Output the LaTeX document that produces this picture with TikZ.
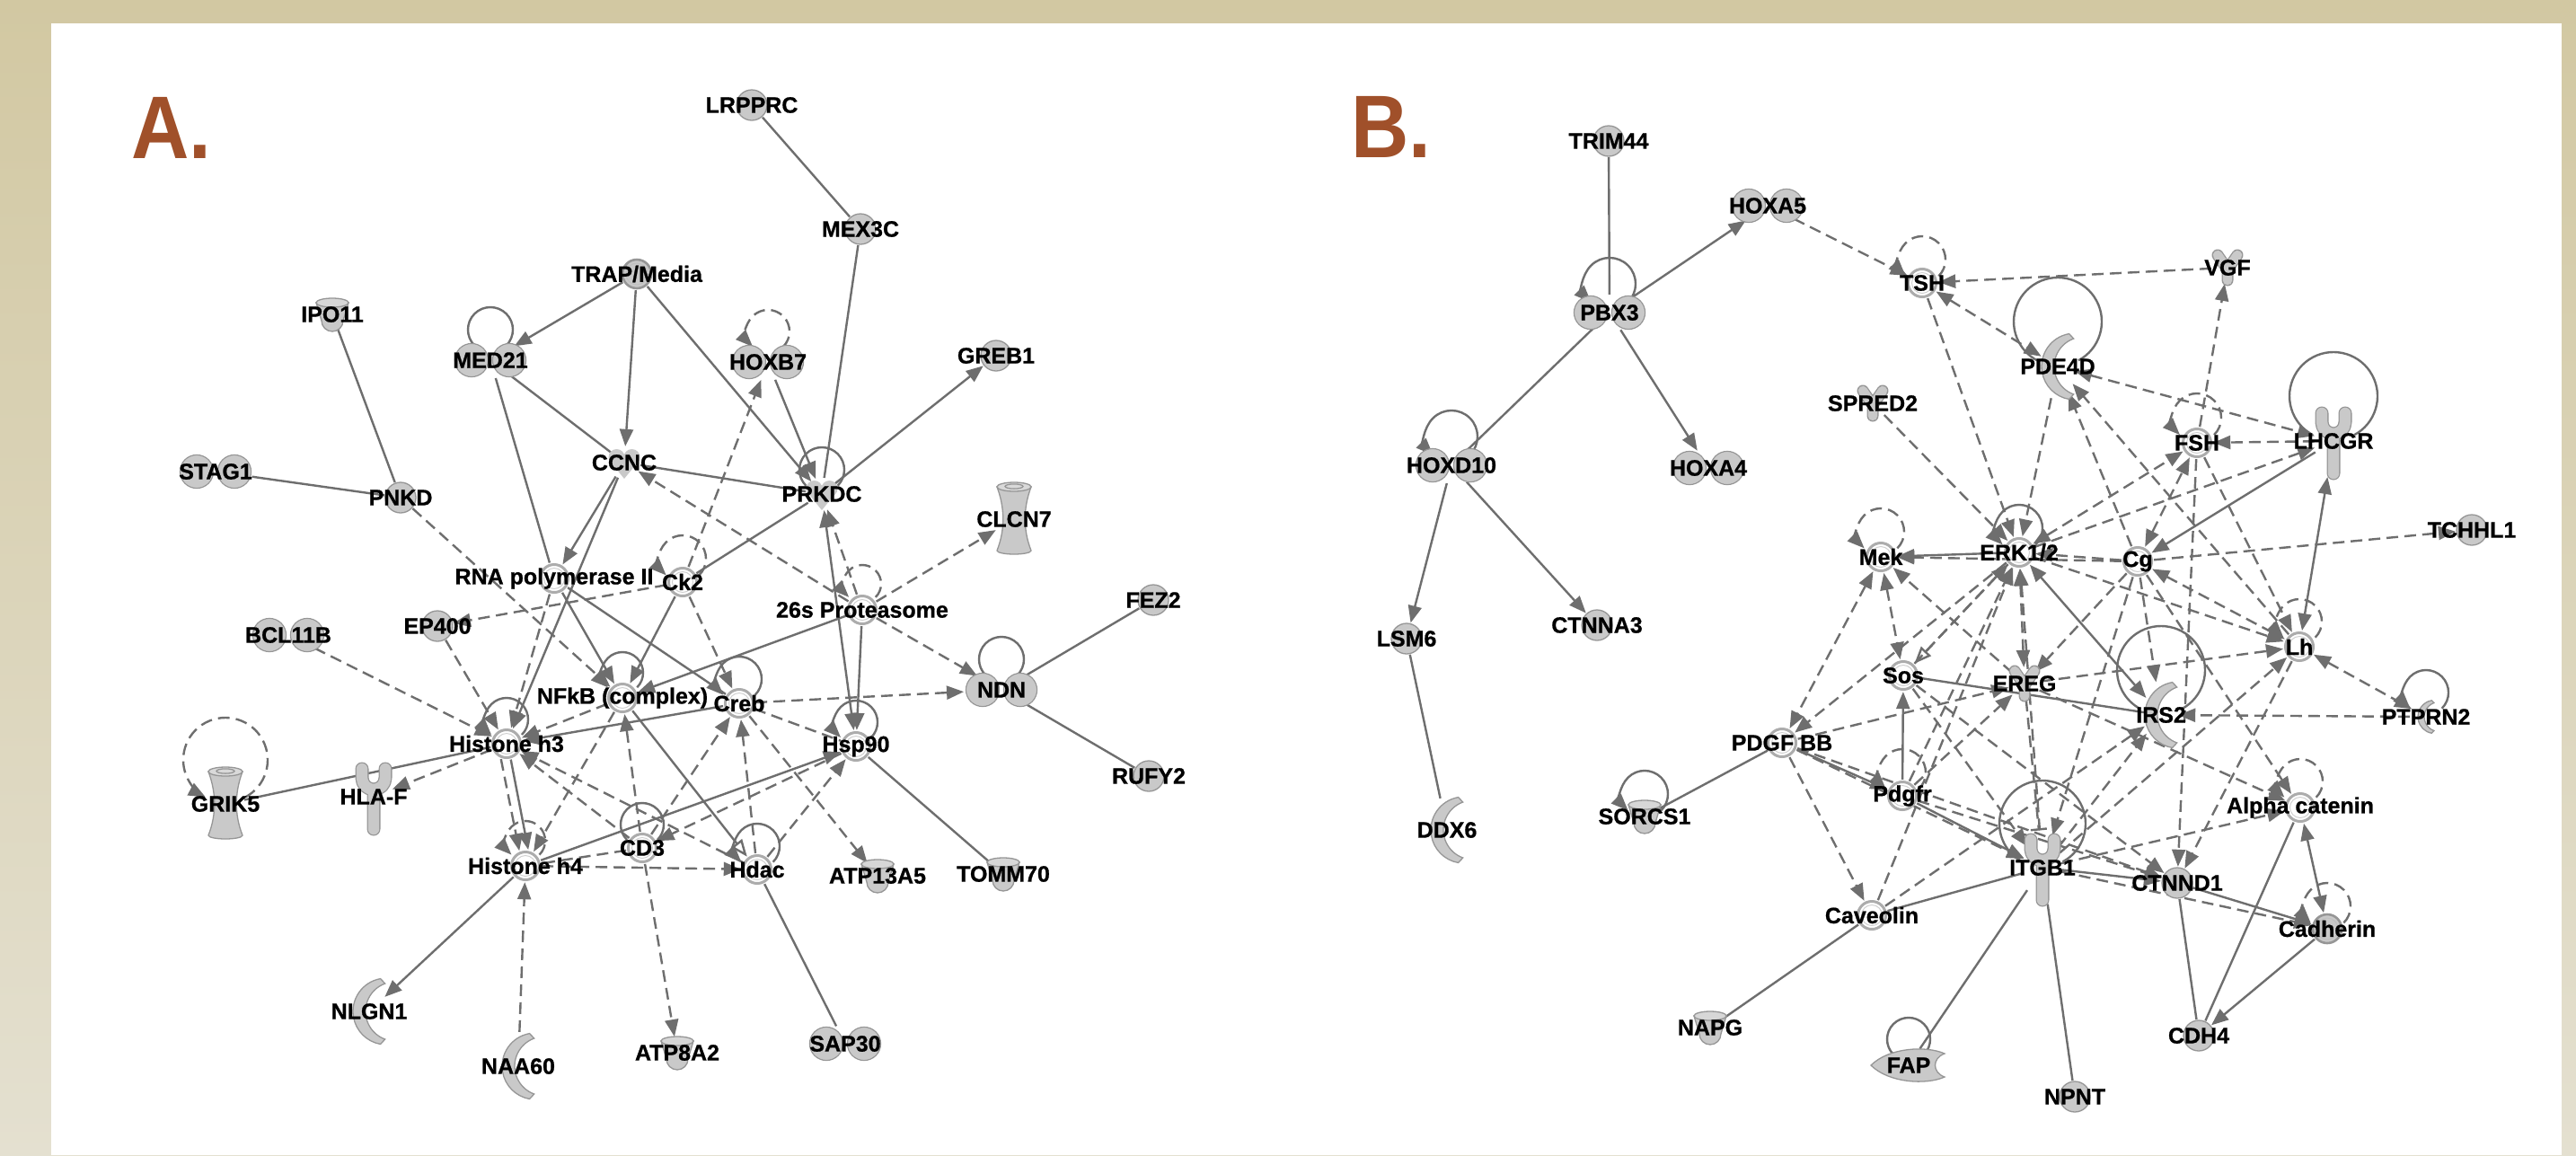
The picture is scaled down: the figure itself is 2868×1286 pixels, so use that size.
\documentclass[tikz,border=0pt]{standalone}
\usepackage{fontspec}
\setmainfont{Liberation Sans}
\newfontfamily\labfam{Liberation Sans}[BoldFeatures={FakeBold=0.8}]
\usetikzlibrary{arrows.meta,calc,shapes.geometric}

\definecolor{bgtop}{RGB}{210,200,162}
\definecolor{bgbot}{RGB}{228,224,208}
\definecolor{lc}{RGB}{110,110,110}
\definecolor{gfill}{RGB}{201,201,201}
\definecolor{gedge}{RGB}{150,150,150}
\definecolor{ringc}{RGB}{172,172,172}
\definecolor{brn}{RGB}{160,80,42}

\newcommand\lfont{\labfam\fontsize{25}{25}\selectfont\bfseries}
% small self-loop above a node: #2 node, #3 height of loop centre, #4 radius
\newcommand\sloop[4][]{\draw[#1] ($(#2)+(0,#3)+(-45:#4)$) arc[start angle=-45,end angle=225,radius=#4];}
% large self-loop that wraps round the glyph
\newcommand\bloop[4][]{\draw[#1] ($(#2)+(0,#3)+(-62:#4)$) arc[start angle=-62,end angle=242,radius=#4];}

\tikzset{
  gnc/.style={circle,minimum size=36pt,inner sep=0pt},
  gnd/.style={ellipse,minimum width=84pt,minimum height=40pt,inner sep=0pt},
  gnt/.style={ellipse,minimum width=42pt,minimum height=84pt,inner sep=0pt},
  gncr/.style={ellipse,minimum width=38pt,minimum height=76pt,inner sep=0pt},
  gnf/.style={ellipse,minimum width=88pt,minimum height=38pt,inner sep=0pt},
  lab/.style={inner sep=0pt,font=\lfont,text=black},
  ln/.style={draw=lc,line width=2.4pt},
  sl/.style={ln},
  dl/.style={ln,dash pattern=on 13pt off 7pt},
  fw/.style={-{Triangle[length=19pt,width=15pt]}},
  bi/.style={{Triangle[length=19pt,width=15pt]}-{Triangle[length=19pt,width=15pt]}},
  ow/.style={-{Triangle[open,fill=white,length=19pt,width=15pt]}},
  tb/.style={-{Bar[width=18pt]}},
  pics/pcirc/.style={code={
    \filldraw[fill=gfill,draw=gedge,line width=1.3pt] (0,0) circle (17);}},
  pics/pdbl/.style={code={
    \filldraw[fill=gfill,draw=gedge,line width=1.3pt] (-21,0) circle (18.5) (21,0) circle (18.5);
    \fill[gfill] (-21,0) circle (17.7) (21,0) circle (17.7);}},
  pics/pcplx/.style={code={
    \fill[white] (0,0) circle (17);
    \draw[ringc,line width=3pt] (0,0) circle (15.5);
    \draw[gedge!45,line width=1pt] (0,0) circle (11.5);}},
  pics/pcplxg/.style={code={
    \fill[gfill] (0,0) circle (17);
    \draw[gedge,line width=2.6pt] (0,0) circle (16);
    \draw[gedge!60,line width=1pt] (0,0) circle (12);}},
  pics/pchan/.style={code={
    \filldraw[fill=gfill,draw=gedge,line width=1.3pt] (-19,36) .. controls (-10,12) and (-10,-12) .. (-19,-35)
      arc[start angle=180,end angle=360,x radius=19,y radius=4] .. controls (10,-12) and (10,12) .. (19,36) -- cycle;
    \filldraw[fill=gfill!70!white,draw=gedge,line width=1.3pt] (0,36) ellipse (19 and 5);
    \draw[gedge,line width=1.3pt] (0,36.5) ellipse (10 and 2.6);}},
  pics/pcup/.style={code={
    \filldraw[fill=gfill,draw=gedge,line width=1.3pt] (-18,13) -- (-12,-7) arc[start angle=180,end angle=360,radius=12] -- (18,13) -- cycle;
    \filldraw[fill=gfill!75!white,draw=gedge,line width=1.3pt] (0,13) ellipse (18 and 5);}},
  pics/precep/.style={code={
    \draw[gedge,line width=15pt,line cap=round,line join=round] (-13,31) -- (-13,21) arc[start angle=180,end angle=360,radius=13] -- (13,31) (0,8) -- (0,-36);
    \draw[gfill,line width=12.4pt,line cap=round,line join=round] (-13,31) -- (-13,21) arc[start angle=180,end angle=360,radius=13] -- (13,31) (0,8) -- (0,-36);}},
  pics/pcres/.style={code={
    \filldraw[fill=gfill,draw=gedge,line width=1.3pt] (12.6,36.4) arc[start angle=100,end angle=260,radius=37]
      -- (17.7,-31) arc[start angle=250,end angle=110,radius=33] -- cycle;}},
  pics/pkin/.style={code={
    \fill[gfill] (-8.5,6) circle (9) (8.5,6) circle (9);
    \fill[gfill] (-17,3) -- (0,-18) -- (17,3) -- cycle;}},
  pics/pvee/.style={code={
    \draw[gedge,line width=13pt,line cap=round,line join=round] (-11,14) -- (0,-2) -- (11,14) (0,-2) -- (0,-14);
    \draw[gfill,line width=10.4pt,line cap=round,line join=round] (-11,14) -- (0,-2) -- (11,14) (0,-2) -- (0,-14);}},
  pics/pfap/.style={code={
    \filldraw[fill=gfill,draw=gedge,line width=1.3pt] (-42,0) .. controls (-22,20) and (20,22) .. (40,13)
      .. controls (26,8) and (26,-8) .. (40,-13) .. controls (20,-22) and (-22,-20) .. (-42,0) -- cycle;}},
}

\begin{document}
\begin{tikzpicture}[x=1pt,y=1pt]
\useasboundingbox (0,0) rectangle (2868,-1286);
\shade[top color=bgtop,bottom color=bgbot] (0,0) rectangle (2868,-1286);
\fill[white] (57,-26) rectangle (2852,-1286);

\node[anchor=base west,inner sep=0pt,text=brn,font=\fontsize{99}{99}\selectfont\bfseries] (titleA) at (146,-176) {\scalebox{0.9}[1]{A.}};
\node[anchor=base west,inner sep=0pt,text=brn,font=\fontsize{99}{99}\selectfont\bfseries] (titleB) at (1504,-175) {\scalebox{0.9}[1]{B.}};

% ---------------- network A: anchors ----------------
\node[gnc] (LRPPRC) at (837,-117) {};
\node[gnc] (MEX3C) at (958,-255) {};
\node[gnc] (TRAP) at (709,-305) {};
\node[gnc] (IPO11) at (370,-350) {};
\node[gnd] (MED21) at (546,-401) {};
\node[gnd] (HOXB7) at (855,-403) {};
\node[gnc] (GREB1) at (1109,-396) {};
\node[gnd] (STAG1) at (240,-525) {};
\node[gnc] (PNKD) at (446,-554) {};
\node[gnc] (CCNC) at (695,-515) {};
\node[gnc] (PRKDC) at (915,-550) {};
\node[gnt] (CLCN7) at (1129,-578) {};
\node[gnc] (RNApol) at (617,-644) {};
\node[gnc] (Ck2) at (760,-648) {};
\node[gnc] (P26s) at (960,-679) {};
\node[gnc] (FEZ2) at (1284,-668) {};
\node[gnd] (BCL11B) at (321,-707) {};
\node[gnc] (EP400) at (487,-697) {};
\node[gnc] (NFkB) at (693,-777) {};
\node[gnc] (Creb) at (823,-783) {};
\node[gnd] (NDN) at (1115,-768) {};
\node[gnc] (H3) at (564,-828) {};
\node[gnc] (Hsp90) at (953,-831) {};
\node[gnt] (GRIK5) at (251,-895) {};
\node[gnt] (HLAF) at (416,-887) {};
\node[gnc] (RUFY2) at (1279,-864) {};
\node[gnc] (CD3) at (715,-944) {};
\node[gnc] (H4) at (585,-964) {};
\node[gnc] (Hdac) at (843,-968) {};
\node[gnc] (ATP13A5) at (977,-975) {};
\node[gnc] (TOMM70) at (1117,-973) {};
\node[gncr] (NLGN1) at (411,-1126) {};
\node[gncr] (NAA60) at (577,-1187) {};
\node[gnc] (ATP8A2) at (754,-1172) {};
\node[gnd] (SAP30) at (941,-1162) {};

% ---------------- network B: anchors ----------------
\node[gnc] (TRIM44) at (1791,-157) {};
\node[gnd] (HOXA5) at (1968,-229) {};
\node[gnd] (PBX3) at (1792,-348) {};
\node[gnc] (TSH) at (2140,-315) {};
\node[gnc] (VGF) at (2480,-298) {};
\node[gncr] (PDE4D) at (2291,-408) {};
\node[gnc] (SPRED2) at (2085,-449) {};
\node[gnc] (FSH) at (2446,-493) {};
\node[gnt] (LHCGR) at (2598,-491) {};
\node[gnd] (HOXD10) at (1616,-518) {};
\node[gnd] (HOXA4) at (1902,-521) {};
\node[gnc] (TCHHL1) at (2752,-590) {};
\node[gnc] (Mek) at (2094,-620) {};
\node[gnc] (ERK) at (2248,-615) {};
\node[gnc] (Cg) at (2380,-625) {};
\node[gnc] (LSM6) at (1566,-711) {};
\node[gnc] (CTNNA3) at (1778,-696) {};
\node[gnc] (Lh) at (2560,-720) {};
\node[gnc] (Sos) at (2119,-752) {};
\node[gnc] (EREG) at (2254,-761) {};
\node[gncr] (IRS2) at (2406,-796) {};
\node[gnc] (PTPRN2) at (2701,-798) {};
\node[gnc] (PDGFBB) at (1984,-827) {};
\node[gnc] (Pdgfr) at (2118,-886) {};
\node[gnc] (AlphaCat) at (2561,-899) {};
\node[gnc] (SORCS1) at (1831,-909) {};
\node[gncr] (DDX6) at (1611,-924) {};
\node[gnt] (ITGB1) at (2274,-966) {};
\node[gnc] (CTNND1) at (2424,-983) {};
\node[gnc] (Caveolin) at (2084,-1019) {};
\node[gnc] (Cadherin) at (2591,-1034) {};
\node[gnc] (NAPG) at (1904,-1144) {};
\node[gnc] (CDH4) at (2448,-1153) {};
\node[gnf] (FAP) at (2125,-1186) {};
\node[gnc] (NPNT) at (2310,-1221) {};

% ---------------- connectors A ----------------
\draw[sl] (LRPPRC) -- (MEX3C);
\draw[sl] (MEX3C) -- (PRKDC);
\draw[sl,fw] (TRAP) -- (MED21);
\draw[sl,fw] (TRAP) -- (CCNC);
\draw[sl,fw] (TRAP) -- (PRKDC);
\draw[sl] (IPO11) -- (PNKD);
\draw[sl] (STAG1) -- (PNKD);
\draw[sl] (MED21) -- (CCNC);
\draw[sl] (MED21) -- (RNApol);
\draw[dl,fw] (PNKD) -- (NFkB);
\draw[dl,fw] (Ck2) -- (HOXB7);
\draw[sl,fw] (HOXB7) -- (PRKDC);
\draw[sl,fw] (PRKDC) -- (GREB1);
\draw[sl] (CCNC) -- (PRKDC);
\draw[dl,fw] (P26s) -- (CCNC);
\draw[sl,fw] (CCNC) -- (RNApol);
\draw[sl,fw] (CCNC) -- (H3);
\draw[dl,fw] (Ck2) -- (EP400);
\draw[sl] (Ck2) -- (PRKDC);
\draw[sl,fw] (Ck2) -- (NFkB);
\draw[dl,fw] (Ck2) -- (Creb);
\draw[dl,fw] (P26s) -- (CLCN7);
\draw[dl,fw] (P26s) -- (NDN);
\draw[sl,fw] (P26s) -- (NFkB);
\draw[sl,fw] (P26s) -- (Hsp90);
\draw[dl,fw] (P26s) -- (PRKDC);
\draw[sl,bi] (PRKDC) -- (Hsp90);
\draw[sl] (Hsp90) -- (TOMM70);
\draw[sl] (NDN) -- (FEZ2);
\draw[sl] (NDN) -- (RUFY2);
\draw[dl,fw] (Creb) -- (NDN);
\draw[dl] (Creb) -- (Hsp90);
\draw[dl,fw] (Creb) -- (ATP13A5);
\draw[dl,fw] (Hdac) -- (Creb);
\draw[dl,fw] (Hdac) -- (Hsp90);
\draw[sl] (Hdac) -- (SAP30);
\draw[sl,fw] (H4) -- (Hsp90);
\draw[dl,fw] (Hsp90) -- (CD3);
\draw[dl,fw] (H4) -- (Hdac);
\draw[dl] (CD3) -- (H4);
\draw[dl,fw] (NFkB) -- (H3);
\draw[sl,fw] (Creb) -- (H3);
\draw[dl,fw] (CD3) -- (H3);
\draw[dl,fw] (Hdac) -- (H3);
\draw[dl,fw] (H3) -- (HLAF);
\draw[sl] (H3) -- (GRIK5);
\draw[dl,fw] (BCL11B) -- (H3);
\draw[dl,fw] (EP400) -- (H3);
\draw[dl,fw] (RNApol) -- (H3);
\draw[dl,fw] (H3.250) -- (H4.112);
\draw[sl,fw] (H3.285) -- (H4.80);
\draw[dl,fw] (NFkB) -- (H4);
\draw[sl,fw] (H4) -- (NLGN1);
\draw[dl,fw] (NAA60) -- (H4);
\draw[dl,fw] (CD3) -- (ATP8A2);
\draw[dl,fw] (CD3) -- (NFkB);
\draw[dl,fw] (CD3) -- (Creb);
\draw[sl,ow] (NFkB) -- (Hdac);
\draw[sl,fw] (RNApol) -- (NFkB);
\draw[sl] (RNApol) -- (Creb);

% ---------------- connectors B ----------------
\draw[sl] (TRIM44) -- (PBX3);
\draw[sl,fw] (PBX3) -- (HOXA5);
\draw[sl] (PBX3) -- (HOXD10);
\draw[sl,fw] (PBX3) -- (HOXA4);
\draw[sl,fw] (HOXD10) -- (LSM6);
\draw[sl,fw] (HOXD10) -- (CTNNA3);
\draw[sl] (LSM6) -- (DDX6);
\draw[dl,fw] (HOXA5) -- (TSH);
\draw[dl,fw] (VGF) -- (TSH);
\draw[dl,bi] (TSH) -- (PDE4D);
\draw[dl,fw] (TSH) -- (ERK);
\draw[dl,fw] (PDE4D) -- (ERK);
\draw[dl,fw] (SPRED2) -- (ERK);
\draw[dl,bi] (PDE4D) -- (LHCGR);
\draw[dl,fw] (FSH) -- (VGF);
\draw[dl,fw] (LHCGR) -- (FSH);
\draw[sl,bi] (Lh) -- (LHCGR);
\draw[sl,fw] (LHCGR) -- (Cg);
\draw[dl,fw] (ERK) -- (LHCGR);
\draw[dl,bi] (ERK) -- (FSH);
\draw[dl,bi] (Cg) -- (FSH);
\draw[dl,fw] (FSH) -- (Lh);
\draw[dl,fw] (FSH) -- (CTNND1);
\draw[dl,fw] (Cg) -- (PDE4D);
\draw[dl,fw] (Lh) -- (PDE4D);
\draw[dl,fw] (Cg) -- (TCHHL1);
\draw[dl,fw] (Cg) -- (ERK);
\draw[sl,fw] (ERK) -- (Mek);
\draw[dl,fw] (Cg) -- (Mek);
\draw[dl,bi] (Mek) -- (Sos);
\draw[dl,bi] (Mek) -- (PDGFBB);
\draw[dl,fw] (EREG) -- (Mek);
\draw[dl,fw] (ERK) -- (PDGFBB);
\draw[dl,ow] (ERK) -- (Sos);
\draw[sl] (Sos) -- (IRS2);
\draw[sl,fw] (Pdgfr) -- (Sos);
\draw[sl,fw] (PDGFBB) -- (Pdgfr);
\draw[dl,fw] (PDGFBB) -- (EREG);
\draw[sl] (PDGFBB) -- (SORCS1);
\draw[dl,fw] (PDGFBB) -- (Caveolin);
\draw[dl,fw] (PDGFBB) -- (ITGB1);
\draw[dl,fw] (PDGFBB) -- (CTNND1);
\draw[dl,fw] (Pdgfr) -- (CTNND1);
\draw[sl,fw] (Pdgfr) -- (ITGB1);
\draw[sl] (Caveolin) -- (ITGB1);
\draw[sl] (Caveolin) -- (NAPG);
\draw[dl,fw] (Caveolin) -- (IRS2);
\draw[sl] (ITGB1) -- (FAP);
\draw[sl] (ITGB1) -- (NPNT);
\draw[dl,fw] (ITGB1) -- (AlphaCat);
\draw[sl,fw] (ITGB1) -- (CTNND1);
\draw[dl,fw] (ITGB1) -- (Cadherin);
\draw[sl,fw] (CTNND1) -- (Cadherin);
\draw[sl] (CTNND1) -- (CDH4);
\draw[sl,fw] (Cadherin) -- (CDH4);
\draw[sl,bi] (AlphaCat) -- (Cadherin);
\draw[sl] (AlphaCat) -- (CDH4);
\draw[dl,tb] (EREG) -- (ITGB1);
\draw[dl,fw] (Cg) -- (ITGB1);
\draw[dl,fw] (Lh) -- (CTNND1);
\draw[dl,bi] (Lh) -- (PTPRN2);
\draw[dl,fw] (PTPRN2) -- (IRS2);
\draw[dl,fw] (EREG) -- (Lh);
\draw[dl,fw] (ITGB1) -- (Lh);
\draw[sl,bi] (ERK) -- (IRS2);
\draw[dl,fw] (Cg) -- (IRS2);
\draw[dl,bi] (Cg) -- (Lh);
\draw[dl,fw] (ERK) -- (Lh);
\draw[dl,bi] (ERK) -- (EREG);
\draw[dl,fw] (Cg) -- (EREG);
\draw[dl,fw] (Cg) -- (AlphaCat);
\draw[dl,fw] (EREG) -- (AlphaCat);
\draw[dl,fw] (Pdgfr) -- (ERK);
\draw[dl,fw] (Pdgfr) -- (EREG);
\draw[dl,fw] (ITGB1) -- (ERK);
\draw[dl,fw] (Sos) -- (ITGB1);
\draw[dl,fw] (ITGB1) -- (IRS2);
\draw[dl,fw] (Sos) -- (ERK);
\draw[dl,fw] (Caveolin) -- (ERK);
\draw[dl,fw] (Sos) -- (CTNND1);

% ---------------- self-loops ----------------
\sloop[sl]{MED21}{34}{25}
\sloop[dl,fw]{HOXB7}{34}{24}
\sloop[sl]{PRKDC}{27}{25}
\sloop[dl,fw]{Ck2}{26}{26}
\sloop[dl,fw]{P26s}{29}{21}
\sloop[sl,fw]{NFkB}{28}{23}
\sloop[sl,fw]{Creb}{27}{25}
\sloop[sl]{NDN}{34}{25}
\sloop[sl,fw]{H3}{27}{24}
\sloop[sl,fw]{Hsp90}{27}{24}
\bloop[dl,fw]{GRIK5}{49}{47}
\sloop[sl]{CD3}{26}{24}
\sloop[dl,fw]{H4}{28}{22}
\sloop[sl,fw]{Hdac}{26}{25}

\sloop[sl,fw]{PBX3}{32}{29}
\sloop[sl,fw]{HOXD10}{32}{29}
\sloop[dl,fw]{TSH}{26}{26}
\bloop[sl]{PDE4D}{50}{49}
\sloop[dl,fw]{FSH}{28}{27}
\bloop[sl]{LHCGR}{50}{49}
\sloop[sl,fw]{ERK}{27}{26}
\sloop[dl,fw]{Mek}{28}{26}
\sloop[dl,fw]{Lh}{28}{25}
\sloop[sl,fw]{PTPRN2}{27}{25}
\bloop[sl]{IRS2}{50}{49}
\sloop[dl,fw]{Pdgfr}{26}{26}
\sloop[sl,fw]{SORCS1}{25}{26}
\bloop[sl]{ITGB1}{49}{48}
\sloop[dl,fw]{AlphaCat}{29}{25}
\sloop[dl,fw]{Cadherin}{25}{26}
\sloop[sl]{FAP}{29}{24}

% ---------------- glyphs ----------------
\pic at (LRPPRC) {pcirc};
\pic at (MEX3C) {pcirc};
\pic at (TRAP) {pcplxg};
\pic at (IPO11) {pcup};
\pic at (MED21) {pdbl};
\pic at (HOXB7) {pdbl};
\pic at (GREB1) {pcirc};
\pic at (STAG1) {pdbl};
\pic at (PNKD) {pcirc};
\pic at (CCNC) {pkin};
\pic at (PRKDC) {pkin};
\pic at (CLCN7) {pchan};
\pic at (RNApol) {pcplx};
\pic at (Ck2) {pcplx};
\pic at (P26s) {pcplx};
\pic at (FEZ2) {pcirc};
\pic at (BCL11B) {pdbl};
\pic at (EP400) {pcirc};
\pic at (NFkB) {pcplx};
\pic at (Creb) {pcplx};
\pic at (NDN) {pdbl};
\pic at (H3) {pcplx};
\pic at (Hsp90) {pcplx};
\pic at (GRIK5) {pchan};
\pic at (HLAF) {precep};
\pic at (RUFY2) {pcirc};
\pic at (CD3) {pcplx};
\pic at (H4) {pcplx};
\pic at (Hdac) {pcplx};
\pic at (ATP13A5) {pcup};
\pic at (TOMM70) {pcup};
\pic at (NLGN1) {pcres};
\pic at (NAA60) {pcres};
\pic at (ATP8A2) {pcup};
\pic at (SAP30) {pdbl};

\pic at (TRIM44) {pcirc};
\pic at (HOXA5) {pdbl};
\pic at (PBX3) {pdbl};
\pic at (TSH) {pcplx};
\pic at (VGF) {pvee};
\pic at (PDE4D) {pcres};
\pic at (SPRED2) {pvee};
\pic at (FSH) {pcplx};
\pic at (LHCGR) {precep};
\pic at (HOXD10) {pdbl};
\pic at (HOXA4) {pdbl};
\pic at (TCHHL1) {pcirc};
\pic at (Mek) {pcplx};
\pic at (ERK) {pcplx};
\pic at (Cg) {pcplx};
\pic at (LSM6) {pcirc};
\pic at (CTNNA3) {pcirc};
\pic at (Lh) {pcplx};
\pic at (Sos) {pcplx};
\pic at (EREG) {pvee};
\pic at (IRS2) {pcres};
\pic[scale=0.5] at (PTPRN2) {pcres};
\pic at (PDGFBB) {pcplx};
\pic at (Pdgfr) {pcplx};
\pic at (AlphaCat) {pcplx};
\pic at (SORCS1) {pcup};
\pic at (DDX6) {pcres};
\pic at (ITGB1) {precep};
\pic at (CTNND1) {pcirc};
\pic at (Caveolin) {pcplx};
\pic at (Cadherin) {pcplxg};
\pic at (NAPG) {pcup};
\pic at (CDH4) {pcirc};
\pic at (FAP) {pfap};
\pic at (NPNT) {pcirc};

% ---------------- labels ----------------
\node[lab] (tLRPPRC) at (LRPPRC) {LRPPRC};
\node[lab] (tMEX3C) at (MEX3C) {MEX3C};
\node[lab] (tTRAP) at (TRAP) {TRAP/Media};
\node[lab] (tIPO11) at (IPO11) {IPO11};
\node[lab] (tMED21) at (MED21) {MED21};
\node[lab] (tHOXB7) at (HOXB7) {HOXB7};
\node[lab] (tGREB1) at (GREB1) {GREB1};
\node[lab] (tSTAG1) at (STAG1) {STAG1};
\node[lab] (tPNKD) at (PNKD) {PNKD};
\node[lab] (tCCNC) at (CCNC) {CCNC};
\node[lab] (tPRKDC) at (PRKDC) {PRKDC};
\node[lab] (tCLCN7) at (CLCN7) {CLCN7};
\node[lab] (tRNApol) at (RNApol) {RNA polymerase II};
\node[lab] (tCk2) at (Ck2) {Ck2};
\node[lab] (tP26s) at (P26s) {26s Proteasome};
\node[lab] (tFEZ2) at (FEZ2) {FEZ2};
\node[lab] (tBCL11B) at (BCL11B) {BCL11B};
\node[lab] (tEP400) at (EP400) {EP400};
\node[lab] (tNFkB) at (NFkB) {NFkB (complex)};
\node[lab] (tCreb) at (Creb) {Creb};
\node[lab] (tNDN) at (NDN) {NDN};
\node[lab] (tH3) at (H3) {Histone h3};
\node[lab] (tHsp90) at (Hsp90) {Hsp90};
\node[lab] (tGRIK5) at (GRIK5) {GRIK5};
\node[lab] (tHLAF) at (HLAF) {HLA-F};
\node[lab] (tRUFY2) at (RUFY2) {RUFY2};
\node[lab] (tCD3) at (CD3) {CD3};
\node[lab] (tH4) at (H4) {Histone h4};
\node[lab] (tHdac) at (Hdac) {Hdac};
\node[lab] (tATP13A5) at (ATP13A5) {ATP13A5};
\node[lab] (tTOMM70) at (TOMM70) {TOMM70};
\node[lab] (tNLGN1) at (NLGN1) {NLGN1};
\node[lab] (tNAA60) at (NAA60) {NAA60};
\node[lab] (tATP8A2) at (ATP8A2) {ATP8A2};
\node[lab] (tSAP30) at (SAP30) {SAP30};

\node[lab] (tTRIM44) at (TRIM44) {TRIM44};
\node[lab] (tHOXA5) at (HOXA5) {HOXA5};
\node[lab] (tPBX3) at (PBX3) {PBX3};
\node[lab] (tTSH) at (TSH) {TSH};
\node[lab] (tVGF) at (VGF) {VGF};
\node[lab] (tPDE4D) at (PDE4D) {PDE4D};
\node[lab] (tSPRED2) at (SPRED2) {SPRED2};
\node[lab] (tFSH) at (FSH) {FSH};
\node[lab] (tLHCGR) at (LHCGR) {LHCGR};
\node[lab] (tHOXD10) at (HOXD10) {HOXD10};
\node[lab] (tHOXA4) at (HOXA4) {HOXA4};
\node[lab] (tTCHHL1) at (TCHHL1) {TCHHL1};
\node[lab] (tMek) at (Mek) {Mek};
\node[lab] (tERK) at (ERK) {ERK1/2};
\node[lab] (tCg) at (Cg) {Cg};
\node[lab] (tLSM6) at (LSM6) {LSM6};
\node[lab] (tCTNNA3) at (CTNNA3) {CTNNA3};
\node[lab] (tLh) at (Lh) {Lh};
\node[lab] (tSos) at (Sos) {Sos};
\node[lab] (tEREG) at (EREG) {EREG};
\node[lab] (tIRS2) at (IRS2) {IRS2};
\node[lab] (tPTPRN2) at (PTPRN2) {PTPRN2};
\node[lab] (tPDGFBB) at (PDGFBB) {PDGF BB};
\node[lab] (tPdgfr) at (Pdgfr) {Pdgfr};
\node[lab] (tAlphaCat) at (AlphaCat) {Alpha catenin};
\node[lab] (tSORCS1) at (SORCS1) {SORCS1};
\node[lab] (tDDX6) at (DDX6) {DDX6};
\node[lab] (tITGB1) at (ITGB1) {ITGB1};
\node[lab] (tCTNND1) at (CTNND1) {CTNND1};
\node[lab] (tCaveolin) at (Caveolin) {Caveolin};
\node[lab] (tCadherin) at (Cadherin) {Cadherin};
\node[lab] (tNAPG) at (NAPG) {NAPG};
\node[lab] (tCDH4) at (CDH4) {CDH4};
\node[lab] (tFAP) at (FAP) {FAP};
\node[lab] (tNPNT) at (NPNT) {NPNT};
\end{tikzpicture}
\end{document}
